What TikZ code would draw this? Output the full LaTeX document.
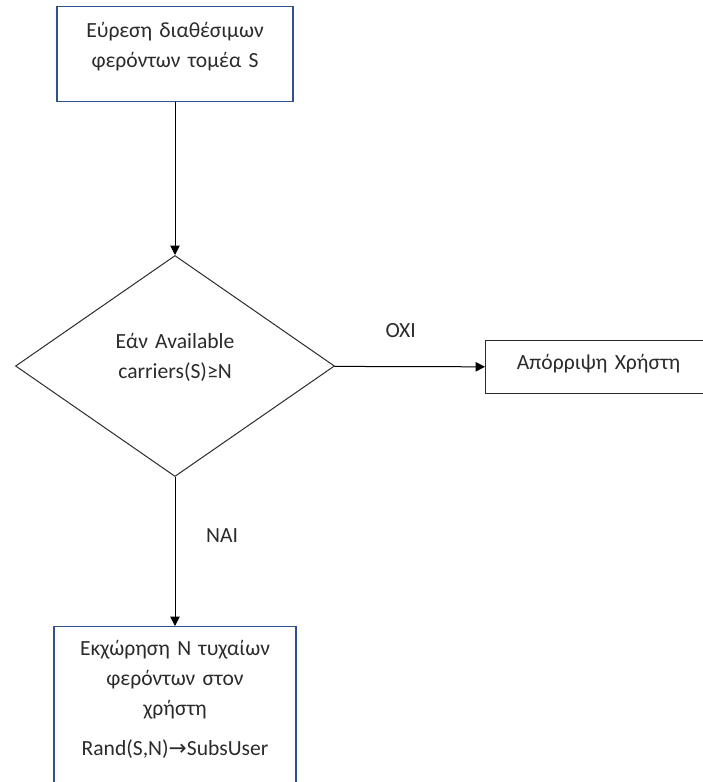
\documentclass[tikz,border=0pt]{standalone}
\usepackage{fontspec}
\setmainfont{Carlito}
\newfontfamily\symfont{DejaVu Sans}
\usetikzlibrary{arrows.meta,positioning,shapes.geometric}
\definecolor{boxblue}{HTML}{2F528F}
\definecolor{ink}{HTML}{2B2B2B}
\tikzset{
  flowtext/.style={font=\fontsize{16.2pt}{22.5pt}\selectfont,text=ink,align=center,inner sep=0pt},
  bluebox/.style={flowtext,draw=boxblue,line width=0.9pt},
  greybox/.style={flowtext,draw=ink,line width=0.9pt},
  decision/.style={flowtext,diamond,draw=ink,line width=0.75pt},
  flowarrow/.style={-{Triangle[length=7pt,width=7pt]},line width=0.75pt,black},
  lbl/.style={font=\fontsize{16.2pt}{18pt}\selectfont,text=ink,inner sep=0pt}
}
\begin{document}
\begin{tikzpicture}[x=0.75pt,y=-0.75pt]
  \useasboundingbox (0,0) rectangle (703,782);
  \node[bluebox,anchor=north,text width=177pt,text height=23.25pt,text depth=48pt] (find) at (175,6) {Εύρεση διαθέσιμων\\φερόντων τομέα S};
  \node[decision,text width=105pt,text height=15pt,text depth=42pt,minimum width=239.25pt,minimum height=165.75pt] (check) at (175,366) {Εάν Available\\carriers(S)≥N};
  \node[greybox,anchor=north west,text width=169.5pt,text height=21.75pt,text depth=18pt] (reject) at (485,340) {Απόρριψη Χρήστη};
  \node[bluebox,anchor=north,text width=181.5pt,text height=21.75pt,text depth=108.75pt] (assign) at (175,626) {Εκχώρηση Ν τυχαίων\\φερόντων στον\\χρήστη\\[7.5pt]Rand(S,N){\symfont →}SubsUser};
  \draw[flowarrow] (find) -- (check);
  \draw[flowarrow] (check) -- node[lbl,above=21pt,pos=0.44]{ΟΧΙ} (reject);
  \draw[flowarrow] (check) -- node[lbl,right=23pt,pos=0.39]{ΝΑΙ} (assign);
\end{tikzpicture}
\end{document}
